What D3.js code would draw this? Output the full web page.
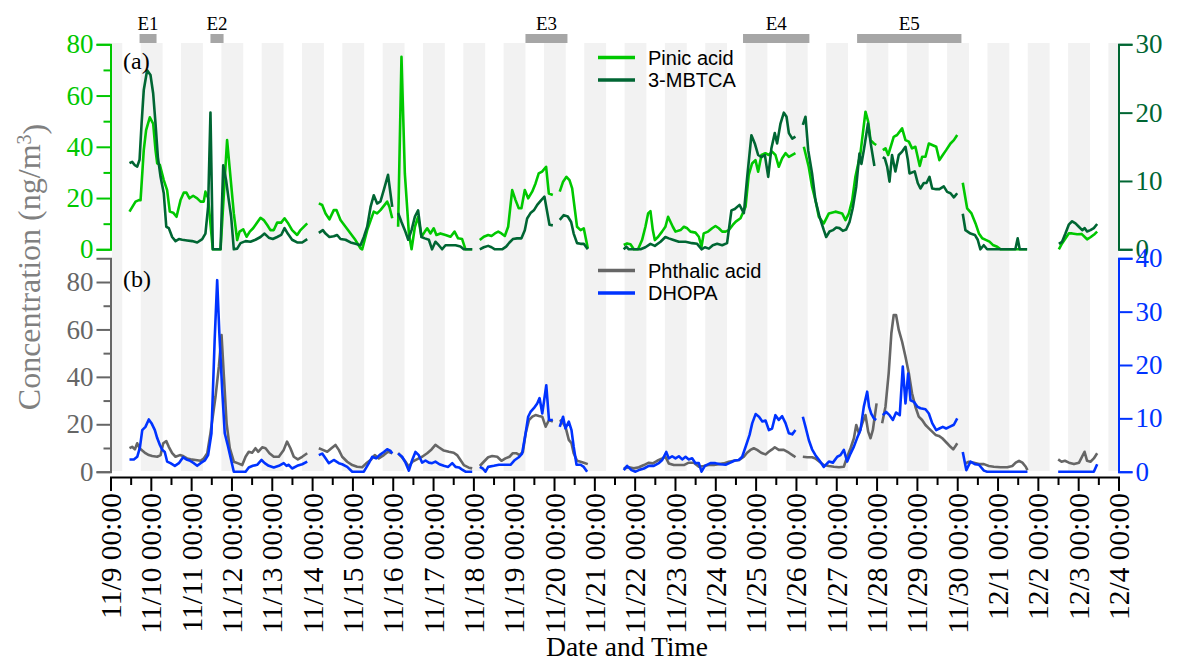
<!DOCTYPE html>
<html>
<head>
<meta charset="utf-8">
<script src="https://cdn.jsdelivr.net/npm/d3@7"></script>
<style>
  html, body { margin: 0; padding: 0; background: #fff; }
  svg { display: block; }
  text { font-family: "Liberation Serif", "Times New Roman", serif; }
  .legend text { font-family: "Liberation Sans", Arial, sans-serif; }
</style>
</head>
<body>
<svg id="chart" width="1177" height="662"></svg>
<script>
// ---- data: [hours since 11/9 00:00, concentration]; null breaks the line ----
const startDate = Date.UTC(2019, 10, 9, 0, 0);
const endDays = 25;

const eventNames = ["E1", "E2", "E3", "E4", "E5"];
const eventSpans = [[17.3, 27.4], [59.5, 67.3], [247, 272], [376.5, 416], [444.4, 506.5]];

const nightStartHour = 18;   // shaded night-time: 18:00 to 07:00
const nightEndHour = 7;

const pinicAcid = [
  [11.3,14.7],[14.9,18.6],[16.9,19.2],[17.9,19.2],[19.8,38.7],[21.2,46.5],[23.4,51.5],[25.4,49],[26.8,38.7],[27.8,33.5],[29.4,32.9],[31.7,27],[33.7,23.1],[35.3,14.7],[37.3,14.3],[39.3,12.7],[41.7,19.2],[43.6,22.1],[45.2,22.1],[47,19.9],[49.2,20.9],[51.6,19.9],[53.6,18.6],[55.5,18.6],[56.5,22.5],[58.1,20],[60.9,0],[65.5,0],[69.4,42.6],[73.4,14],[75.4,3.6],[76.8,6.9],[79,7.8],[81,4.9],[82.9,6.9],[84.9,8.2],[89.3,12.3],[91.2,11.4],[93.3,9.5],[95.2,7.5],[97.2,7.5],[99.2,10.4],[101.6,10.4],[103.6,12.1],[105.5,10.4],[108.1,7.5],[111.1,5.6],[113.1,7.5],[117.1,10.1], null,
  [124,17.9],[126,17.3],[128,14],[130.3,11.7],[132.9,15.3],[134.5,15.3],[136.9,11.4],[139.9,8.8],[142.9,6.2],[145.8,3.6],[148.8,0.4],[149.8,0],[152.8,7.5],[156.7,14.7],[158.7,14],[160.7,15.3],[164.7,18.6],[166,16.6],[167.7,12.1], null,
  [171.2,8.8],[173.2,75.1],[175.2,29.6],[177.6,6.2],[179.2,0],[181.2,8.8],[183.1,12.7],[185.1,4.9],[187.1,6.9],[188.5,8.2],[190.5,6.2],[192.4,8.2],[194,5.6],[196.4,6.2],[199.4,5.6],[202.4,4.9],[204.8,6.9],[206.9,4.3],[209.3,4],[211.3,0],[215.3,0], null,
  [219.8,3.6],[222.2,4.9],[224.8,5.6],[226.8,5.2],[228.8,6.2],[230.8,6.9],[232.7,6.2],[234.7,5.2],[236.7,8.8],[239.1,23.1],[241.1,19.2],[243,16],[244.6,16],[246.6,23.1],[248.6,19.9],[251,22.5],[253,25.7],[254.9,29.6],[256.9,30.3],[259.3,32.2],[260.9,21.8],[263.3,21.2], null,
  [267.4,22.5],[269.4,26.4],[271.4,28.3],[273.2,27],[274.8,23.8],[277.7,8.8],[279.8,7.5],[281.7,8.2],[284.1,0.4], null,
  [305.5,1.7],[307.5,2.3],[309.5,2],[311.5,0],[314,0],[316.4,3.6],[318.4,8.8],[320,14],[321.4,14.9],[322.8,7.5],[324,3.6],[326,4.9],[328.3,6.9],[330.3,8.8],[331.9,12.7],[334.7,8.8],[336.3,6.9],[339.3,7.5],[341.3,8.8],[343.3,8.2],[345.2,6.9],[348.2,6.5],[350.2,4.9],[351.8,1],[353.1,6.2],[355.7,6.9],[358.1,8.2],[360.1,9.1],[362.1,8.2],[364.1,6.9],[366.1,6.9],[368,7.5],[370.4,9.5],[372.2,10.8],[375,12.1],[378,16.6],[379.9,29],[381.9,33.5],[383.9,34.8],[385.5,30.3],[387.5,36.8],[389.8,37.5],[391.8,36.8],[393.8,38.1],[395.8,36.8],[397.8,32.2],[399.8,35.5],[401.8,37.5],[403.8,36.1],[407.7,37.5], null,
  [412.7,40],[415.6,32.2],[417.6,24.4],[419.6,19.2],[421.6,12.7],[424.6,10.1],[427.6,14],[431.5,14.7],[435.5,14],[437.5,11.4],[439.5,14],[441.5,19.2],[443.4,28.3],[446.4,37.5],[449.4,53.7],[451,49.8],[452.4,42.6],[454.4,41.3],[455.8,40.7], null,
  [459.7,38.7],[461.3,39.4],[462.9,36.8],[466.2,43.9],[468.2,44.6],[471.2,47.2],[473.2,42.6],[475.2,42],[477.1,39.4],[479.1,40],[481.7,32.5],[483.1,36.1],[485.1,36.1],[487.1,41.3],[489.1,40.7],[491.5,40],[493.4,34.8],[495.4,36.8],[497.4,38.7],[500,41.3],[502,42.6],[504,44.6], null,
  [507.3,26],[509.9,16],[512.5,14],[514.9,10.1],[516.9,6.2],[518.9,4.3],[521.3,3.6],[523.2,3],[525.2,1.7],[527.8,1],[529.8,0],[545.6,0], null,
  [564.5,0],[566.4,2.3],[570.4,6.2],[572.4,6.2],[575.4,5.9],[578,6],[581.3,3.9],[583.3,4.7],[585.9,6],[587.3,6.9]
];

const mbtca = [
  [11.3,12.6],[12.9,12.8],[14.5,12.3],[15.9,12.1],[17.3,13.1],[18.5,18.4],[19.8,23.3],[21.8,26.2],[23.8,25.5],[25.4,22.8],[26.8,18.4],[28.2,13.5],[29.8,10.6],[31.7,8.2],[33.2,3.3],[34.7,3.1],[36.7,1.8],[38.7,1.2],[40.7,1.5],[42.7,1.4],[45.6,1.3],[48.6,1.2],[51.6,1.0],[54.6,1.5],[56.5,2.3],[58.1,6.2],[59.5,20],[60.9,0],[65.5,0],[67.1,12.3],[68.8,10.1],[70.4,7.2],[71.8,4.8],[73.4,0],[75.4,0.1],[77.4,0.9],[80.4,1.2],[83.3,1.1],[86.3,1.4],[89.3,1.8],[91.7,2.3],[94.2,1.7],[96.6,1.5],[99.2,1.8],[101.6,2.1],[103.6,3.1],[105.5,2.3],[108.1,1.4],[111.1,1.0],[114.1,1.0],[117.1,1.5], null,
  [124,2.4],[126.4,2.8],[128,2.3],[130.3,1.8],[132.9,1.9],[134.9,2.1],[136.9,1.5],[139.9,1.4],[142.9,1.0],[145.8,0.8],[148.8,0.6],[150.8,1.8],[152.8,3.3],[154.8,6.2],[156.7,7.9],[158.7,6.7],[160.7,7.0],[162.7,8.7],[165.2,10.9],[167.7,6.2], null,
  [171.2,5.3],[173.2,4.0],[175.2,2.8],[177.2,1.4],[179.2,2.8],[181.2,4.8],[183.1,5.7],[185.1,1.8],[187.1,1.6],[189.5,1.4],[191.4,0],[193.4,1.1],[195.4,0.6],[197.4,0],[199.4,0.6],[202.4,0.6],[205.4,0.6],[208.3,0.4],[210.3,0],[215.3,0], null,
  [219.8,0],[222.2,0.3],[224.8,0.5],[226.8,0.3],[228.8,0],[233.1,0],[235.5,0.4],[237.5,1.0],[239.5,1.5],[242,1.6],[244.6,1.6],[246.6,2.8],[248,4.5],[250,5.3],[252,5.7],[254,6.5],[256.4,7.2],[258.3,7.7],[261.3,3.6],[263.3,3.5], null,
  [267.4,4.3],[269.8,5.0],[272.2,4.8],[274.2,4.0],[275.7,2.3],[277.7,0.9],[279.8,0.8],[281.7,0.8],[284.1,0], null,
  [305.5,0],[307,0.4],[308.5,0],[315.5,0],[318.4,0.3],[321.4,0.8],[324,0.5],[327.4,1.1],[330.3,1.8],[332.3,1.6],[334.7,1.4],[338.3,1.1],[342.3,1.1],[346.2,0.9],[349.2,0.8],[351.8,0],[353.8,0.3],[356.2,0.1],[358.5,0.6],[361.1,0.8],[364.1,0.6],[367,0.9],[369.6,5.7],[371.6,5.9],[374.4,6.5],[377,5.3],[379,10.6],[381.5,16.7],[383.5,15.5],[385.5,13.8],[387.5,13.5],[389.5,13.8],[391.5,10.6],[393.4,14.8],[395.4,17.0],[396.8,15.5],[398.8,18.4],[400.8,20.0],[402.4,19.4],[403.8,17.0],[405.8,16.2],[407.7,16.5], null,
  [412.1,18.2],[413.7,19.4],[415.3,14.5],[417.6,11.1],[419.6,7.2],[422,4.8],[424.6,2.8],[426,1.8],[428,2.6],[430,2.8],[432,3.2],[433.9,3.1],[435.9,2.7],[437.9,2.9],[439.9,4.0],[441.8,6.0],[443.9,9.2],[445.8,14],[447,12.5],[448.4,14.5],[450.9,18.4],[452.5,15.5],[454.7,12.2], null,
  [459.7,13.5],[460.9,13.3],[462.3,12.1],[463.7,9.9],[465.2,13.8],[467.2,11.4],[469.2,13.8],[471.2,14.3],[473.2,15.0],[474.6,13.1],[475.6,11.1],[478.7,11.4],[480.5,9.7],[482.1,8.9],[484.1,9.7],[485.7,9.7],[487.5,10.6],[489.1,8.9],[491.5,8.8],[493.4,8.8],[496,9.2],[498,8.4],[500,8.2],[502,7.6],[504,8.2], null,
  [507.3,5.2],[508.9,2.8],[511.9,2.3],[514.5,2.1],[516.2,1.4],[517.8,0],[519.8,0.6],[521.8,0],[538.6,0],[540,1.6],[541.2,0],[545.6,0], null,
  [564.5,0.8],[566.4,1.1],[568.4,2.3],[570.4,3.6],[572.4,4.1],[574.4,3.8],[576.4,3.3],[578.4,2.8],[579.9,3.1],[581.3,2.6],[583.3,2.8],[585.3,3.1],[587.3,3.7]
];

const phthalicAcid = [
  [11.3,9.9],[12.9,10.5],[14.5,9.4],[15.9,12.0],[17.3,9.9],[18.9,8.9],[20.8,7.8],[22.8,7.0],[24.8,6.6],[27.8,6.3],[29.8,7.0],[31.4,12.0],[33.2,12.9],[34.7,10.5],[36.7,7.8],[38.7,6.3],[41.3,7.0],[43.2,6.6],[45.6,5.6],[47.6,5.2],[50.6,4.9],[53.6,4.6],[55.5,5.6],[57.6,7.8],[59.5,16.2],[62.5,31.6],[64.5,44.3],[66.1,57.6],[67.5,40.1],[69.1,20.4],[71,9.9],[73.4,4.2],[76,3.5],[78.4,2.8],[80.4,6.3],[82.3,8.4],[84.3,8.0],[86.3,9.9],[87.9,8.4],[90.3,10.3],[92.3,9.9],[94.6,7.8],[97.2,6.3],[100.2,6.3],[103.1,9.2],[105.1,12.7],[107.1,9.9],[109.1,6.3],[111.5,5.2],[114.1,6.3],[117.1,7.8], null,
  [124,9.9],[126.4,9.2],[129,8.4],[131.5,9.9],[133.9,11.3],[135.9,9.2],[137.9,6.3],[140.9,4.2],[143.9,2.8],[146.8,2.1],[149.8,1.9],[152.2,3.5],[154.8,4.9],[157.3,7.0],[159.7,5.6],[162.7,7.0],[165.2,8.4],[167.7,7.8], null,
  [171.2,7.8],[173.2,6.3],[175.2,4.6],[177.6,2.1],[179.6,4.2],[181.5,4.9],[183.5,5.6],[185.5,6.3],[188.5,7.8],[191.1,9.4],[193.4,11.3],[195.4,10.3],[198.4,8.9],[201.4,8.4],[204.3,8.0],[206.3,7.0],[208.3,4.9],[210.3,2.8],[213.3,1.7],[215.3,1.4], null,
  [219.8,2.4],[222.2,4.2],[224.8,6.1],[227.2,6.6],[230.2,6.3],[232.7,4.6],[235.1,5.6],[237.5,6.3],[239.5,7.8],[241.5,7.8],[243.5,7.0],[245.5,8.4],[247.1,16.2],[249.1,21.8],[251.1,23.2],[253,23.9],[255,23.5],[257,23.2],[259,19.0],[261,21.8],[263.3,21.1], null,
  [267.4,21.8],[268.8,21.1],[270.8,19.0],[272.8,13.4],[274.4,12.0],[275.7,7.8],[277.7,4.6],[279.8,4.2],[281.7,3.8],[284.1,3.2], null,
  [305.5,1.4],[308.5,1.9],[311.5,1.4],[314.5,1.9],[317.5,2.8],[320.4,3.8],[322.8,3.5],[325.4,4.6],[328.4,5.6],[330.3,6.3],[332.3,3.5],[335.3,2.8],[338.3,2.8],[341.3,2.8],[344.2,3.8],[347.2,3.8],[350.2,2.1],[353.1,2.4],[356.1,2.8],[359.1,2.8],[362.1,3.2],[365,3.5],[368,4.2],[371,4.6],[374,4.9],[377,6.3],[378.9,8.0],[380.9,9.2],[382.9,9.9],[384.9,9.2],[387.3,8.0],[389.9,7.3],[391.8,8.4],[393.8,9.4],[395.4,10.3],[397.8,9.2],[400.8,9.2],[403.8,8.0],[406.8,6.6],[407.7,6.1], null,
  [412.1,6.3],[414.7,6.1],[417.6,6.1],[419.6,5.6],[422,4.2],[424.6,2.8],[427.6,2.4],[430.6,2.1],[433.6,1.9],[436.5,2.1],[438.5,6.3],[440.5,9.9],[442.5,14.1],[443.9,19.7],[445.5,16.2],[447.5,20.4],[449.4,23.9],[451,16.9],[452.4,14.1],[453.8,17.6],[456,28.8], null,
  [459.3,20.4],[461.3,27.4],[463.2,41.5],[464.8,58.4],[466.2,66.1],[467.6,66.1],[469.2,59.8],[471.2,54.8],[473.2,48.5],[475.2,41.5],[477.1,33.1],[479.1,27.4],[481.1,23.2],[483.1,21.8],[485.1,19.7],[487.1,18.3],[489.1,16.9],[491.1,15.5],[493.1,15.1],[495.1,14.1],[498,12.0],[500,10.5],[501.6,9.4],[503,10.8],[504,12.0], null,
  [508.9,3.5],[510.9,4.2],[513.9,3.8],[516.9,3.2],[519.9,3.2],[522.8,2.4],[525.8,2.1],[529.8,1.9],[533.8,1.9],[536.8,2.4],[538.8,3.8],[540.8,4.6],[542.8,3.8],[544.8,2.1],[545.8,0.7], null,
  [564.1,5.2],[566.1,4.2],[568.1,4.6],[570.5,3.8],[573.5,3.2],[576.5,3.8],[579.8,8.4],[581.3,4.6],[583.3,4.2],[585.3,5.6],[587.3,7.8]
];

const dhopa = [
  [11.3,2.3],[13.9,2.3],[15.9,2.8],[17.5,4.5],[18.9,7.8],[20.8,8.4],[22.8,9.8],[24.4,9.1],[26.4,7.8],[27.8,6.3],[29.4,5.0],[30.8,4.1],[32.3,3.7],[33.7,1.9],[35.7,1.6],[38.3,1.1],[40.7,1.6],[43.2,2.7],[45.2,2.3],[47,2.1],[49.6,1.6],[51.6,1.1],[53.6,1.6],[56.1,2.1],[58.1,3.1],[60.1,7.2],[62,24.7],[63.5,35.9],[64.8,25.9],[66.5,15.3],[68,7.2],[70,4.7],[72,1.9],[73.4,0],[80.4,0],[82.3,0.8],[84.7,1.1],[87.3,1.3],[89.9,2.2],[91.8,1.6],[94.2,1.1],[97.2,0.8],[100.2,1.1],[103.1,1.6],[104.8,1.1],[106.1,1.3],[108.1,0.6],[111.1,1.1],[114.1,1.4],[117.1,1.9], null,
  [124,3.1],[126,3.4],[128,2.5],[130,1.6],[132.9,2.2],[135.9,1.6],[137.9,1.4],[140.9,0.9],[143.9,0],[150.8,0],[153.8,1.6],[155.8,2.8],[158.1,2.5],[160.1,3.1],[162.7,3.7],[164.7,4.2],[166.7,3.9],[167.7,3.4], null,
  [171.2,3.4],[173.6,2.8],[175.6,1.7],[177.6,0.2],[179.6,2.2],[181.5,3.7],[183.5,3.1],[185.5,1.7],[187.5,2.1],[189.5,1.7],[191.4,1.6],[193.4,1.9],[195.8,1.4],[198.4,1.1],[201,0.9],[203.4,1.6],[205.4,0.9],[207.4,0.8],[209.3,0.4],[211.3,0],[215.3,0], null,
  [219.8,0.9],[221.6,0.6],[223.2,0],[224.8,0.9],[228.2,1.1],[231.2,1.3],[235.1,1.3],[238.1,1.3],[240.7,2.2],[243,2.7],[245,3.4],[247.1,7.2],[248.6,10.3],[250,11.2],[252,11.9],[254,12.8],[255.4,13.8],[257,10.9],[259.4,16.2],[261,9.7],[263.3,9.7], null,
  [267.4,8.4],[269.4,10.3],[270.8,8.1],[272.8,9.4],[274.4,7.8],[275.7,4.7],[277.4,1.3],[279.8,1.3],[281.7,0.9],[283.7,0], null,
  [305.5,0.3],[307.5,1.1],[310.1,0.3],[312.5,0],[314.5,0.3],[317.5,0.6],[320.4,1.1],[323.4,1.1],[326.4,1.6],[328.4,2.2],[330.8,3.7],[332.3,2.5],[334.3,2.9],[336.3,2.5],[338.3,2.9],[340.3,2.3],[342.3,2.8],[344.2,2.3],[346.2,2.5],[348.2,1.6],[350.2,1.6],[351.8,0],[353.8,1.1],[357.1,1.6],[360.1,1.6],[363.1,1.4],[366.1,1.3],[369,1.7],[371.6,2.1],[374,2.2],[376,2.8],[378.4,5.0],[380.4,6.9],[382,9.1],[384,10.8],[386,10.3],[388,9.4],[389.9,9.6],[391.9,7.8],[393.8,8.1],[395.8,10.6],[397.8,9.7],[399.8,10.4],[401.8,9.1],[403.8,7.2],[405.8,7.0],[407.7,7.8], null,
  [412.1,10.3],[413.7,8.4],[415.7,5.9],[417.6,4.2],[419.6,3.1],[422,2.1],[424.6,0.9],[427.6,1.9],[430,1.7],[432.6,2.8],[434.5,3.1],[436.5,4.1],[438.5,1.9],[440.5,3.4],[442.5,4.7],[444.4,6.3],[446.4,7.8],[448.4,12.2],[450.4,15.0],[451.5,12.2],[452.8,10.9],[454.4,10.0],[455.8,9.7], null,
  [459.7,10.6],[461.7,11.2],[463.7,10.6],[465.7,9.7],[467.6,11.1],[469.8,10.6],[471.6,19.7],[473.2,12.8],[474.8,18.4],[476.2,13.4],[478.2,13.1],[480.2,12.2],[482.1,11.9],[485.1,11.7],[487.1,10.9],[489.1,9.1],[491.5,7.8],[493.4,8.1],[495.4,8.4],[497.4,8.1],[499.4,8.4],[502,8.8],[504,10.0], null,
  [507.3,3.7],[509.4,0.3],[511.9,1.9],[514.5,1.4],[516.9,1.3],[519.9,0.2],[521.8,0],[545.8,0], null,
  [564.1,0],[585.3,0],[587.3,1.4]
];

const topLeftTicks = [0, 20, 40, 60, 80];
const topLeftMinor = [10, 30, 50, 70];
const topRightTicks = [0, 10, 20, 30];
const bottomLeftTicks = [0, 20, 40, 60, 80];
const bottomLeftMinor = [10, 30, 50, 70];
const bottomRightTicks = [0, 10, 20, 30, 40];

// ---- colours ----
const cPinic = "#00c800";
const cMbtca = "#006633";
const cPhth = "#666666";
const cDhopa = "#0033ff";
const SERIF = "'Liberation Serif', 'Times New Roman', serif";

// ---- layout ----
const svg = d3.select("#chart");
const X0 = 110.5, X1 = 1118.5;
const topY0 = 249.3, topY1 = 44.3;
const botY0 = 471.7, botY1 = 258.3;
const axisY = 477;

const toDate = h => new Date(startDate + h * 3600e3);
const x = d3.scaleUtc().domain([toDate(0), toDate(endDays * 24)]).range([X0, X1]);
const yPinic = d3.scaleLinear().domain([0, 80]).range([topY0, topY1]);
const yMbtca = d3.scaleLinear().domain([0, 30]).range([topY0, topY1]);
const yPhth = d3.scaleLinear().domain([0, 90]).range([botY0, botY1]);
const yDhopa = d3.scaleLinear().domain([0, 40]).range([botY0, botY1]);

// ---- night-time shading ----
const nights = [[0, nightEndHour]];
for (let d = 0; d < endDays; d++) {
  nights.push([d * 24 + nightStartHour, Math.min((d + 1) * 24 + nightEndHour, endDays * 24)]);
}
svg.append("g").selectAll("rect").data(nights).join("rect")
  .attr("x", d => x(toDate(d[0])) + (d[0] === 0 ? 1.5 : 0))
  .attr("width", d => x(toDate(d[1])) - x(toDate(d[0])) - (d[0] === 0 ? 1.5 : 0))
  .attr("y", 43).attr("height", 428)
  .attr("fill", "#f2f2f2");

// ---- episode bars ----
const ev = svg.append("g");
ev.selectAll("rect").data(eventSpans).join("rect")
  .attr("x", d => x(toDate(d[0])))
  .attr("width", d => x(toDate(d[1])) - x(toDate(d[0])))
  .attr("y", 34).attr("height", 9)
  .attr("fill", "#a6a6a6");
ev.selectAll("text").data(eventSpans).join("text")
  .attr("x", d => (x(toDate(d[0])) + x(toDate(d[1]))) / 2)
  .attr("y", 30)
  .attr("text-anchor", "middle")
  .style("font-family", SERIF)
  .attr("font-size", 19)
  .text((d, i) => eventNames[i]);

// ---- series ----
function drawSeries(data, yScale, color) {
  const line = d3.line()
    .defined(d => d !== null)
    .x(d => x(toDate(d[0])))
    .y(d => yScale(d[1]));
  svg.append("path").datum(data)
    .attr("d", line)
    .attr("fill", "none")
    .attr("stroke", color)
    .attr("stroke-width", 2.6)
    .attr("stroke-linejoin", "round");
}
drawSeries(pinicAcid, yPinic, cPinic);
drawSeries(mbtca, yMbtca, cMbtca);
drawSeries(phthalicAcid, yPhth, cPhth);
drawSeries(dhopa, yDhopa, cDhopa);

// ---- y axes ----
function styleAxis(g, color, fontSize) {
  g.attr("font-family", null);
  g.selectAll("path, line").attr("stroke", color).attr("stroke-width", 2);
  g.selectAll("text").attr("fill", color).attr("font-size", fontSize)
    .style("font-family", SERIF);
}
function yAxis(scale, side, xPos, majors, minors, color) {
  const mk = side === "left" ? d3.axisLeft : d3.axisRight;
  const g = svg.append("g").attr("transform", `translate(${xPos},0)`);
  g.call(mk(scale).tickValues(majors).tickSize(14).tickPadding(3).tickFormat(d3.format("d")));
  styleAxis(g, color, 27);
  if (minors) {
    const gm = svg.append("g").attr("transform", `translate(${xPos},0)`);
    gm.call(mk(scale).tickValues(minors).tickSize(7).tickFormat(""));
    gm.select(".domain").remove();
    styleAxis(gm, color, 27);
  }
}
yAxis(yPinic, "left", X0, topLeftTicks, topLeftMinor, cPinic);
yAxis(yMbtca, "right", X1, topRightTicks, null, cMbtca);
yAxis(yPhth, "left", X0, bottomLeftTicks, bottomLeftMinor, cPhth);
yAxis(yDhopa, "right", X1, bottomRightTicks, null, cDhopa);

// ---- x axis ----
const dayTicks = d3.range(0, endDays + 1).map(d => toDate(d * 24));
const halfDayTicks = d3.range(0, endDays).map(d => toDate(d * 24 + 12));
const gx = svg.append("g").attr("transform", `translate(0,${axisY})`);
gx.call(d3.axisBottom(x).tickValues(dayTicks).tickSize(14).tickFormat(d3.utcFormat("%-m/%-d %H:%M")));
gx.attr("font-family", null);
gx.selectAll("path, line").attr("stroke", "#000").attr("stroke-width", 2);
gx.selectAll("text")
  .attr("transform", "rotate(-90)")
  .attr("x", -16).attr("y", 0).attr("dy", "0.34em")
  .attr("text-anchor", "end")
  .attr("fill", "#000").attr("font-size", 29.5)
  .style("font-family", SERIF);
const gxm = svg.append("g").attr("transform", `translate(0,${axisY})`);
gxm.call(d3.axisBottom(x).tickValues(halfDayTicks).tickSize(8).tickFormat(""));
gxm.select(".domain").remove();
gxm.selectAll("line").attr("stroke", "#000").attr("stroke-width", 2);

// ---- titles and panel labels ----
svg.append("text").attr("x", 627).attr("y", 656).attr("text-anchor", "middle")
  .style("font-family", SERIF).attr("font-size", 27.5).text("Date and Time");
const yt = svg.append("text")
  .attr("transform", "translate(40,267) rotate(-90)")
  .attr("text-anchor", "middle").attr("font-size", 32).attr("fill", "#808080")
  .style("font-family", SERIF);
yt.append("tspan").text("Concentration (ng/m");
yt.append("tspan").attr("dy", "-0.45em").attr("font-size", 20).text("3");
yt.append("tspan").attr("dy", "0.45em").text(")");

svg.append("text").attr("x", 123).attr("y", 69).attr("font-size", 24)
  .style("font-family", SERIF).text("(a)");
svg.append("text").attr("x", 123).attr("y", 287).attr("font-size", 24)
  .style("font-family", SERIF).text("(b)");

// ---- legends ----
function legend(items, y0) {
  const g = svg.append("g").attr("class", "legend");
  items.forEach((it, i) => {
    const y = y0 + i * 22.5;
    g.append("line").attr("x1", 598).attr("x2", 635).attr("y1", y).attr("y2", y)
      .attr("stroke", it[1]).attr("stroke-width", 3.5);
    g.append("text").attr("x", 648).attr("y", y).attr("dy", "0.35em")
      .attr("font-size", 20).attr("fill", "#000").text(it[0]);
  });
}
legend([["Pinic acid", cPinic], ["3-MBTCA", cMbtca]], 57.5);
legend([["Phthalic acid", cPhth], ["DHOPA", cDhopa]], 270.5);
</script>
</body>
</html>
